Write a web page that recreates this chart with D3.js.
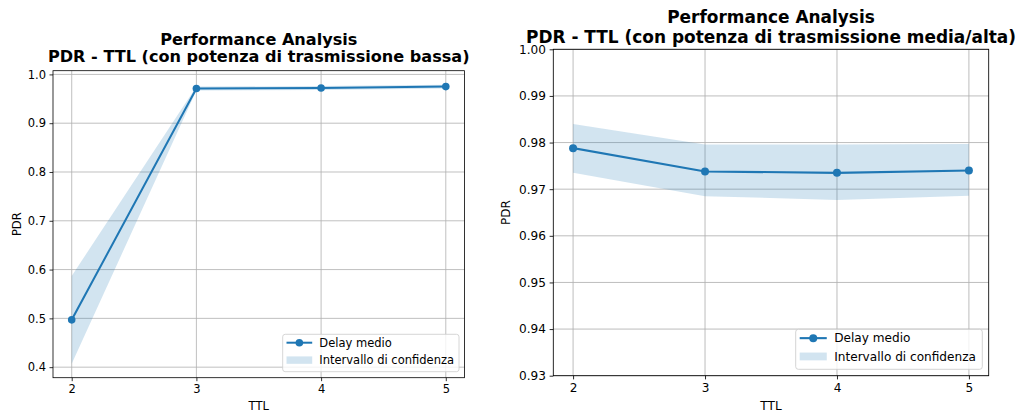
<!DOCTYPE html>
<html>
<head>
<meta charset="utf-8">
<script src="https://cdn.jsdelivr.net/npm/d3@7"></script>
<style>
  html, body { margin: 0; padding: 0; background: #fff; }
  svg { display: block; }
  text { font-family: "DejaVu Sans", sans-serif; fill: #000; }
</style>
</head>
<body>
<svg id="chart" width="1023" height="413"></svg>
<script>
// ---------- DATA ----------
const ttl = [2, 3, 4, 5];

// Left: low transmission power
const lowMean  = [0.497, 0.971, 0.972, 0.975];
const lowLower = [0.407, 0.967, 0.968, 0.971];
const lowUpper = [0.587, 0.975, 0.976, 0.979];
const lowYTicks = [0.4, 0.5, 0.6, 0.7, 0.8, 0.9, 1.0];

// Right: medium/high transmission power
const highMean  = [0.9788, 0.9738, 0.9735, 0.9740];
const highLower = [0.9735, 0.9685, 0.9677, 0.9686];
const highUpper = [0.9840, 0.9796, 0.9796, 0.9797];
const highYTicks = [0.93, 0.94, 0.95, 0.96, 0.97, 0.98, 0.99, 1.00];
const highYLim = [0.93, 1.00];

const xTicks = [2, 3, 4, 5];
const titleLine1 = "Performance Analysis";
const titleLow = "PDR - TTL (con potenza di trasmissione bassa)";
const titleHigh = "PDR - TTL (con potenza di trasmissione media/alta)";
const xLabel = "TTL";
const yLabel = "PDR";
const legendLine = "Delay medio";
const legendBand = "Intervallo di confidenza";

// ---------- LAYOUT ----------
const C = "#1f77b4";
const svg = d3.select("#chart");

const panels = [
  { s: 1.0, left: 53, right: 464.5, top: 70.7, bottom: 377.7,
    mean: lowMean, lower: lowLower, upper: lowUpper, yTicks: lowYTicks, yFmt: ".1f",
    yLim: null, title2: titleLow, t1y: 45, t2y: 62,
    legend: { x: 282.7, y: 334.3, w: 176.3, h: 37.4 },
    ylabX: 21, xlabY: 410 },
  { s: 1.053, left: 553.3, right: 988.7, top: 49.3, bottom: 375.7,
    mean: highMean, lower: highLower, upper: highUpper, yTicks: highYTicks, yFmt: ".2f",
    yLim: highYLim, title2: titleHigh, t1y: 23.3, t2y: 42.7,
    legend: { x: 795.7, y: 329.3, w: 186.6, h: 40 },
    ylabX: 510, xlabY: 410 }
];

function matplotlibLim(lo, hi) {
  const m = (hi - lo) * 0.05;
  return [lo - m, hi + m];
}

panels.forEach(p => {
  const s = p.s;
  const fs = 11.5 * s;
  const x = d3.scaleLinear().domain(matplotlibLim(d3.min(ttl), d3.max(ttl))).range([p.left, p.right]);
  const yDom = p.yLim ? p.yLim : matplotlibLim(d3.min(p.lower), d3.max(p.upper));
  const y = d3.scaleLinear().domain(yDom).range([p.bottom, p.top]);

  const g = svg.append("g");

  // grid
  g.append("g").selectAll("line").data(xTicks).join("line")
    .attr("x1", d => x(d)).attr("x2", d => x(d))
    .attr("y1", p.top).attr("y2", p.bottom)
    .attr("stroke", "#b0b0b0").attr("stroke-width", 0.8 * s);
  g.append("g").selectAll("line").data(p.yTicks).join("line")
    .attr("x1", p.left).attr("x2", p.right)
    .attr("y1", d => y(d)).attr("y2", d => y(d))
    .attr("stroke", "#b0b0b0").attr("stroke-width", 0.8 * s);

  // confidence band
  const data = ttl.map((t, i) => ({ t, m: p.mean[i], lo: p.lower[i], hi: p.upper[i] }));
  g.append("path").datum(data)
    .attr("d", d3.area().x(d => x(d.t)).y0(d => y(d.lo)).y1(d => y(d.hi)))
    .attr("fill", C).attr("fill-opacity", 0.2);

  // line
  g.append("path").datum(data)
    .attr("d", d3.line().x(d => x(d.t)).y(d => y(d.m)))
    .attr("fill", "none").attr("stroke", C).attr("stroke-width", 2 * s)
    .attr("stroke-linejoin", "round").attr("stroke-linecap", "square");
  g.append("g").selectAll("circle").data(data).join("circle")
    .attr("cx", d => x(d.t)).attr("cy", d => y(d.m)).attr("r", 3.8 * s)
    .attr("fill", C);

  // spines
  g.append("rect")
    .attr("x", p.left).attr("y", p.top)
    .attr("width", p.right - p.left).attr("height", p.bottom - p.top)
    .attr("fill", "none").attr("stroke", "#000").attr("stroke-width", 0.8 * s);

  // axes
  const xAxis = d3.axisBottom(x).tickValues(xTicks).tickFormat(d3.format("d"))
    .tickSize(3.5 * s).tickSizeOuter(0).tickPadding(3.5 * s);
  const gx = g.append("g").attr("transform", `translate(0,${p.bottom})`).call(xAxis);
  const yAxis = d3.axisLeft(y).tickValues(p.yTicks).tickFormat(d3.format(p.yFmt))
    .tickSize(3.5 * s).tickSizeOuter(0).tickPadding(3.5 * s);
  const gy = g.append("g").attr("transform", `translate(${p.left},0)`).call(yAxis);
  [gx, gy].forEach(a => {
    a.select(".domain").remove();
    a.selectAll(".tick line").attr("stroke", "#000").attr("stroke-width", 0.8 * s);
    a.selectAll(".tick text").attr("font-size", fs).attr("font-family", "DejaVu Sans").attr("fill", "#000");
  });

  // axis labels
  g.append("text").attr("x", (p.left + p.right) / 2).attr("y", p.xlabY)
    .attr("text-anchor", "middle").attr("font-size", fs).text(xLabel);
  g.append("text")
    .attr("transform", `translate(${p.ylabX},${(p.top + p.bottom) / 2}) rotate(-90)`)
    .attr("text-anchor", "middle").attr("font-size", fs).text(yLabel);

  // titles
  const cx = (p.left + p.right) / 2;
  g.append("text").attr("x", cx).attr("y", p.t1y).attr("text-anchor", "middle")
    .attr("font-size", 16.1 * s).attr("font-weight", "bold").text(titleLine1);
  g.append("text").attr("x", cx).attr("y", p.t2y).attr("text-anchor", "middle")
    .attr("font-size", 16.1 * s).attr("font-weight", "bold").text(p.title2);

  // legend
  const L = p.legend;
  const lg = g.append("g").attr("transform", `translate(${L.x},${L.y})`);
  lg.append("rect").attr("width", L.w).attr("height", L.h).attr("rx", 2.5 * s)
    .attr("fill", "#fff").attr("fill-opacity", 0.8)
    .attr("stroke", "#cccccc").attr("stroke-width", 0.8 * s);
  const hx0 = 3.8 * s, hx1 = hx0 + 25.7 * s;
  const r1 = 8.4 * s, r2 = 25.8 * s;
  lg.append("line").attr("x1", hx0).attr("x2", hx1).attr("y1", r1).attr("y2", r1)
    .attr("stroke", C).attr("stroke-width", 2 * s);
  lg.append("circle").attr("cx", (hx0 + hx1) / 2).attr("cy", r1).attr("r", 3.8 * s).attr("fill", C);
  lg.append("rect").attr("x", hx0).attr("y", r2 - 3.7 * s).attr("width", hx1 - hx0).attr("height", 7.4 * s)
    .attr("fill", C).attr("fill-opacity", 0.2);
  const tx = 36.6 * s;
  lg.append("text").attr("x", tx).attr("y", r1 + 4.1 * s).attr("font-size", fs).text(legendLine);
  lg.append("text").attr("x", tx).attr("y", r2 + 4.1 * s).attr("font-size", fs).text(legendBand);
});
</script>
</body>
</html>
